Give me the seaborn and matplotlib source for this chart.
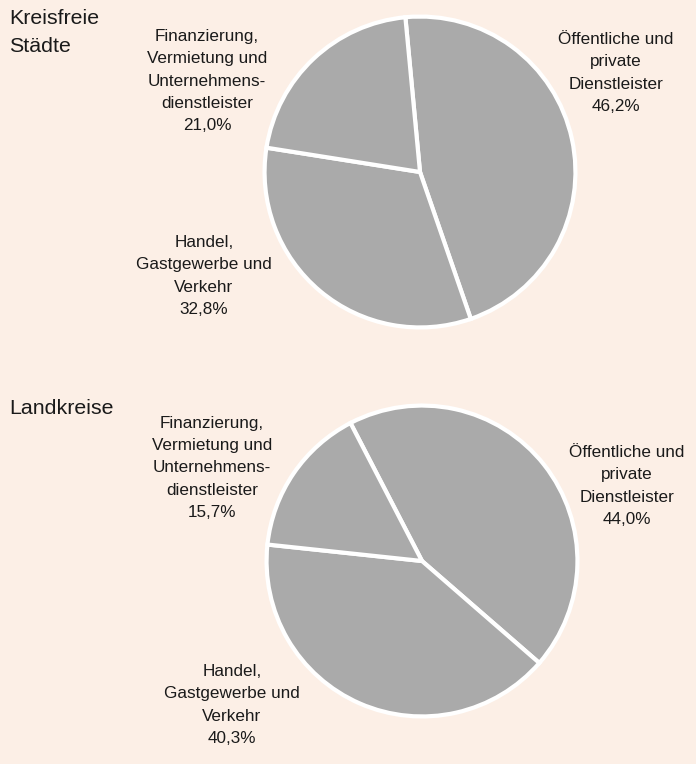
import seaborn as sns
import matplotlib.pyplot as plt

# Data
labels = ['Öffentliche und\nprivate\nDienstleister',
          'Handel,\nGastgewerbe und\nVerkehr',
          'Finanzierung,\nVermietung und\nUnternehmens-\ndienstleister']
kreisfreie = [46.2, 32.8, 21.0]
landkreise = [44.0, 40.3, 15.7]
titles = ['Kreisfreie\nStädte', 'Landkreise']

sns.set_theme(style="white")
plt.rcParams['font.family'] = ['Liberation Sans', 'DejaVu Sans']

bg = '#fcefe6'
grey = sns.color_palette(['#aaaaaa'])[0]

W, H = 696, 764
fig = plt.figure(figsize=(W / 100, H / 100), dpi=100, facecolor=bg)


def px(x, y):
    return x / W, 1 - y / H


def fmt(v):
    return f"{v:.1f}%".replace('.', ',')


# pie placement (pixel centre, radius, startangle) and label centres
setup = [
    dict(vals=kreisfreie, cx=420, cy=172, r=157, start=95.4,
         lab=[(616, 73), (204, 276), (207, 81)], title_y=9),
    dict(vals=landkreise, cx=422, cy=561, r=157, start=117.4,
         lab=[(627, 486), (232, 705), (212, 468)], title_y=399),
]

for s, title in zip(setup, titles):
    left, top = s['cx'] - s['r'], s['cy'] - s['r']
    ax = fig.add_axes([left / W, 1 - (top + 2 * s['r']) / H,
                       2 * s['r'] / W, 2 * s['r'] / H])
    ax.pie(s['vals'], colors=[grey] * 3, startangle=s['start'],
           counterclock=False,
           wedgeprops=dict(edgecolor='white', linewidth=3))
    ax.set_xlim(-1.01, 1.01)
    ax.set_ylim(-1.01, 1.01)
    ax.set_axis_off()

    for lab, v, (lx, ly) in zip(labels, s['vals'], s['lab']):
        x, y = px(lx, ly)
        fig.text(x, y, lab + '\n' + fmt(v), ha='center', va='center',
                 fontsize=12.3, linespacing=1.6, color='#1a1a1a')

    x, y = px(9, s['title_y'])
    fig.text(x, y, title, ha='left', va='top', fontsize=15.4,
             linespacing=1.6, color='#1a1a1a')

fig.savefig('out.png', dpi=100, facecolor=bg)
